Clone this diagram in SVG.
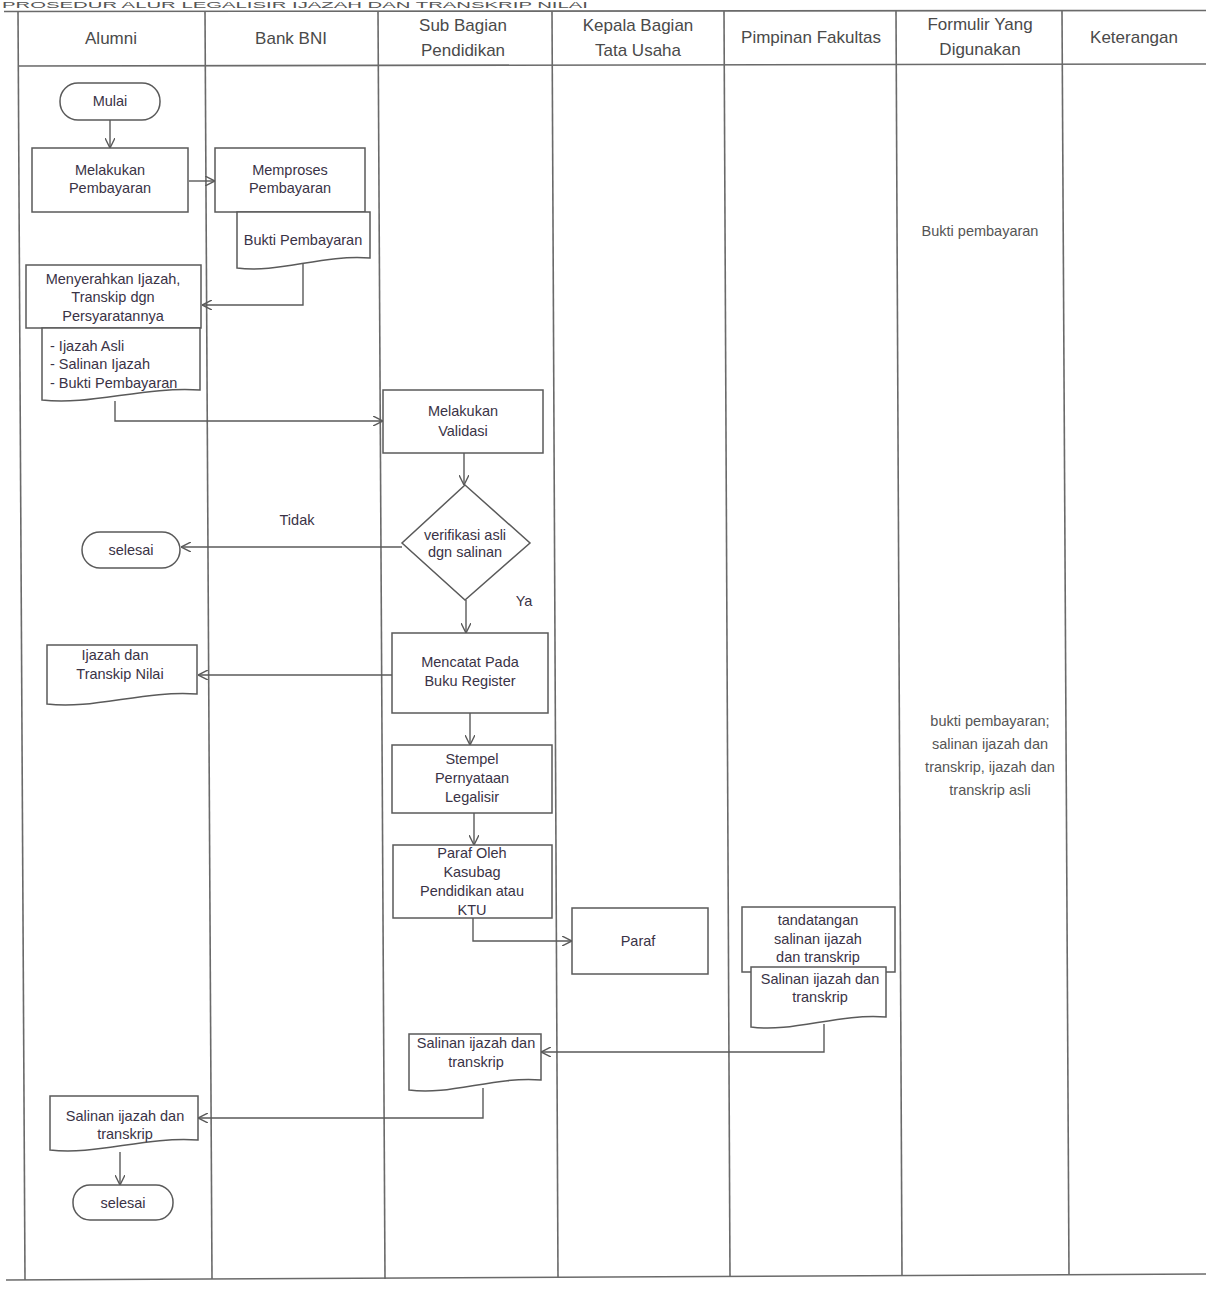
<svg xmlns="http://www.w3.org/2000/svg" width="1206" height="1290" viewBox="0 0 1206 1290">
<style>
.grid{stroke:#6a6a6a;stroke-width:1.6;fill:none}
.hd{font-family:"Liberation Sans",Arial,sans-serif;font-size:17px;fill:#4a4a4a;text-anchor:middle}
.shape{fill:#fff;stroke:#5a5a5a;stroke-width:1.5}
.t{font-family:"Liberation Sans",Arial,sans-serif;font-size:14.5px;fill:#3a3346;text-anchor:middle}
.tl{font-family:"Liberation Sans",Arial,sans-serif;font-size:14.5px;fill:#3a3346;text-anchor:start}
.note{font-family:"Liberation Sans",Arial,sans-serif;font-size:14.5px;fill:#555;text-anchor:middle}
.con{fill:none;stroke:#5a5a5a;stroke-width:1.4;marker-end:url(#arr)}
</style>
<defs>
<marker id="arr" viewBox="0 0 10 10" refX="10" refY="5" markerWidth="10" markerHeight="10" markerUnits="userSpaceOnUse" orient="auto">
<polyline points="0,0 10,5 0,10" fill="none" stroke="#5a5a5a" stroke-width="1.4"/>
</marker>
</defs>
<rect width="1206" height="1290" fill="#fff"/>
<text x="2" y="7.5" font-family="Liberation Sans,Arial,sans-serif" font-size="9.5" fill="#555" textLength="586" lengthAdjust="spacingAndGlyphs">PROSEDUR ALUR LEGALISIR IJAZAH DAN TRANSKRIP NILAI</text>
<g id="table">
<line class="grid" x1="4" y1="11.5" x2="1206" y2="10.5"/>
<line class="grid" x1="18" y1="66" x2="1206" y2="64"/>
<line class="grid" x1="6" y1="1280" x2="1206" y2="1274"/>
<line class="grid" x1="18" y1="11" x2="25" y2="1280"/>
<line class="grid" x1="205" y1="11" x2="212" y2="1279"/>
<line class="grid" x1="378" y1="11" x2="385" y2="1279"/>
<line class="grid" x1="552" y1="11" x2="558" y2="1278"/>
<line class="grid" x1="724" y1="11" x2="730" y2="1277"/>
<line class="grid" x1="896" y1="11" x2="902" y2="1276"/>
<line class="grid" x1="1062" y1="11" x2="1069" y2="1275"/>
<text class="hd" x="111" y="44">Alumni</text>
<text class="hd" x="291" y="44">Bank BNI</text>
<text class="hd" x="463" y="31">Sub Bagian</text>
<text class="hd" x="463" y="56">Pendidikan</text>
<text class="hd" x="638" y="31">Kepala Bagian</text>
<text class="hd" x="638" y="56">Tata Usaha</text>
<text class="hd" x="811" y="43">Pimpinan Fakultas</text>
<text class="hd" x="980" y="30">Formulir Yang</text>
<text class="hd" x="980" y="55">Digunakan</text>
<text class="hd" x="1134" y="43">Keterangan</text>
</g>
<g id="connectors">
<path class="con" d="M110,120 V148"/>
<path class="con" d="M189,181 H215"/>
<path class="con" d="M303,264 V305 H202"/>
<path class="con" d="M115,401 V421 H383"/>
<path class="con" d="M464,453 V485"/>
<path class="con" d="M402,547 H181"/>
<path class="con" d="M466,600 V633"/>
<path class="con" d="M392,675 H198"/>
<path class="con" d="M470,713 V745"/>
<path class="con" d="M474,813 V845"/>
<path class="con" d="M473,918 V941 H572"/>
<path class="con" d="M824,1024 V1052 H541"/>
<path class="con" d="M483,1088 V1118 H198"/>
<path class="con" d="M120,1152 V1185"/>
<text class="t" x="297" y="525">Tidak</text>
<text class="t" x="524" y="606">Ya</text>
</g>
<g id="mulai">
<rect class="shape" x="60" y="83" width="100" height="37" rx="18"/>
<text class="t" x="110" y="106" font-size="13">Mulai</text>
</g>
<g id="melakukan-pembayaran">
<rect class="shape" x="32" y="148" width="156" height="64"/>
<text class="t" x="110" y="175">Melakukan</text>
<text class="t" x="110" y="193">Pembayaran</text>
</g>
<g id="memproses-pembayaran">
<rect class="shape" x="215" y="148" width="150" height="64"/>
<text class="t" x="290" y="175">Memproses</text>
<text class="t" x="290" y="193">Pembayaran</text>
</g>
<g id="bukti-pembayaran-doc">
<path class="shape" d="M237,212 H370 V258 C323,254 277,274 237,268 Z"/>
<text class="t" x="303" y="245">Bukti Pembayaran</text>
</g>
<g id="menyerahkan">
<rect class="shape" x="26" y="265" width="175" height="63"/>
<text class="t" x="113" y="284">Menyerahkan Ijazah,</text>
<text class="t" x="113" y="302">Transkip dgn</text>
<text class="t" x="113" y="321">Persyaratannya</text>
</g>
<g id="persyaratan-doc">
<path class="shape" d="M42,328 H200 V390 C145,386 89,406 42,400 Z"/>
<text class="tl" x="50" y="351">- Ijazah Asli</text>
<text class="tl" x="50" y="369">- Salinan Ijazah</text>
<text class="tl" x="50" y="388">- Bukti Pembayaran</text>
</g>
<g id="melakukan-validasi">
<rect class="shape" x="383" y="390" width="160" height="63"/>
<text class="t" x="463" y="416">Melakukan</text>
<text class="t" x="463" y="436">Validasi</text>
</g>
<g id="verifikasi">
<polygon class="shape" points="465,485 530,543 465,600 402,543"/>
<text class="t" x="465" y="540">verifikasi asli</text>
<text class="t" x="465" y="557">dgn salinan</text>
</g>
<g id="selesai-1">
<rect class="shape" x="82" y="532" width="98" height="36" rx="18"/>
<text class="t" x="131" y="555" font-size="13">selesai</text>
</g>
<g id="mencatat">
<rect class="shape" x="392" y="633" width="156" height="80"/>
<text class="t" x="470" y="667">Mencatat Pada</text>
<text class="t" x="470" y="686">Buku Register</text>
</g>
<g id="ijazah-transkip-nilai-doc">
<path class="shape" d="M47,645 H197 V694 C145,690 92,710 47,704 Z"/>
<text class="t" x="115" y="660">Ijazah dan</text>
<text class="t" x="120" y="679">Transkip Nilai</text>
</g>
<g id="stempel">
<rect class="shape" x="392" y="745" width="160" height="68"/>
<text class="t" x="472" y="764">Stempel</text>
<text class="t" x="472" y="783">Pernyataan</text>
<text class="t" x="472" y="802">Legalisir</text>
</g>
<g id="paraf-oleh">
<rect class="shape" x="393" y="845" width="159" height="73"/>
<text class="t" x="472" y="858">Paraf Oleh</text>
<text class="t" x="472" y="877">Kasubag</text>
<text class="t" x="472" y="896">Pendidikan atau</text>
<text class="t" x="472" y="915">KTU</text>
</g>
<g id="paraf">
<rect class="shape" x="572" y="908" width="136" height="66"/>
<text class="t" x="638" y="946">Paraf</text>
</g>
<g id="tandatangan">
<rect class="shape" x="742" y="907" width="153" height="65"/>
<text class="t" x="818" y="925">tandatangan</text>
<text class="t" x="818" y="944">salinan ijazah</text>
<text class="t" x="818" y="962">dan transkrip</text>
</g>
<g id="salinan-pimpinan-doc">
<path class="shape" d="M751,967 H886 V1017 C839,1013 792,1033 751,1027 Z"/>
<text class="t" x="820" y="984">Salinan ijazah dan</text>
<text class="t" x="820" y="1002">transkrip</text>
</g>
<g id="salinan-sub-doc">
<path class="shape" d="M409,1034 H541 V1080 C495,1076 449,1096 409,1090 Z"/>
<text class="t" x="476" y="1048">Salinan ijazah dan</text>
<text class="t" x="476" y="1067">transkrip</text>
</g>
<g id="salinan-alumni-doc">
<path class="shape" d="M50,1096 H198 V1140 C146,1136 94,1156 50,1150 Z"/>
<text class="t" x="125" y="1121">Salinan ijazah dan</text>
<text class="t" x="125" y="1139">transkrip</text>
</g>
<g id="selesai-2">
<rect class="shape" x="73" y="1185" width="100" height="35" rx="17"/>
<text class="t" x="123" y="1208" font-size="13">selesai</text>
</g>
<g id="formulir-1">
<text class="note" x="980" y="236">Bukti pembayaran</text>
</g>
<g id="formulir-2">
<text class="note" x="990" y="726">bukti pembayaran;</text>
<text class="note" x="990" y="749">salinan ijazah dan</text>
<text class="note" x="990" y="772">transkrip, ijazah dan</text>
<text class="note" x="990" y="795">transkrip asli</text>
</g>
</svg>
